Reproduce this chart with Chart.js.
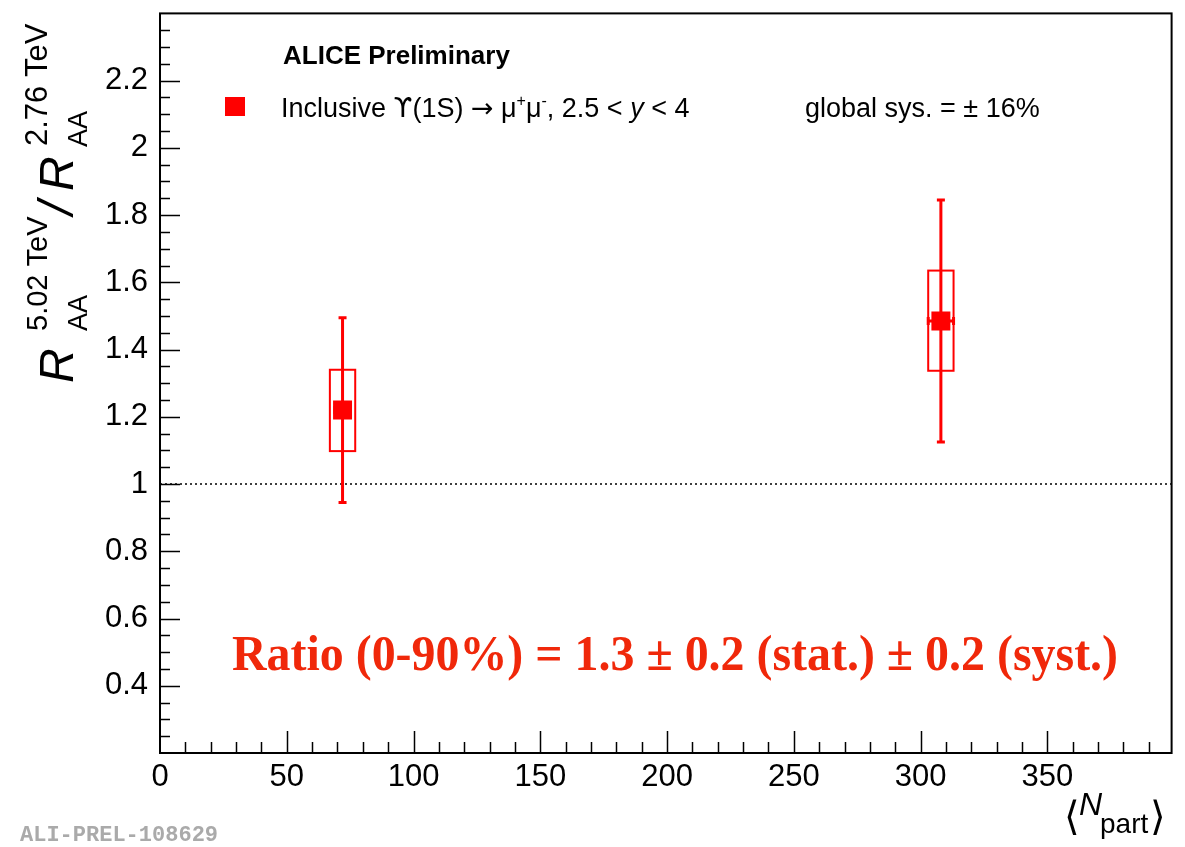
<!DOCTYPE html>
<html>
<head>
<meta charset="utf-8">
<script src="https://cdn.jsdelivr.net/npm/chart.js@4.4.1/dist/chart.umd.min.js"></script>
<style>
  html, body { margin: 0; padding: 0; background: #fff; }
</style>
</head>
<body>
<canvas id="myChart" width="1185" height="847"></canvas>
<script>
// values
const nPart = [72, 308];
const nPartErr = [3, 5];
const ratio = [1.22, 1.485];
const statLow = [0.945, 1.125];
const statHigh = [1.495, 1.845];
const systLow = [1.098, 1.337];
const systHigh = [1.34, 1.635];
const systHalfWidth = [5, 5];
const xTicks = [0, 50, 100, 150, 200, 250, 300, 350];
const yTicks = [0.4, 0.6, 0.8, 1, 1.2, 1.4, 1.6, 1.8, 2, 2.2];
const refLine = 1;

const RED = "#ff0000";
const SANS = "'Liberation Sans', Arial, sans-serif";
const SYM = "'DejaVu Sans', 'Liberation Sans', sans-serif";

Chart.defaults.font.family = SANS;
Chart.defaults.color = "#000";

// ROOT-like frame, inward ticks, error bars, boxes and texts
const rootStyle = {
  id: "rootStyle",
  beforeDatasetsDraw(chart) {
    const { ctx, chartArea: a, scales: { x, y } } = chart;
    ctx.save();
    // dotted line at ratio = 1
    ctx.strokeStyle = "#000";
    ctx.lineWidth = 1.5;
    ctx.setLineDash([2, 3]);
    ctx.beginPath();
    ctx.moveTo(a.left, y.getPixelForValue(refLine));
    ctx.lineTo(a.right, y.getPixelForValue(refLine));
    ctx.stroke();
    ctx.setLineDash([]);

    ctx.strokeStyle = RED;
    for (let i = 0; i < nPart.length; i++) {
      const px = x.getPixelForValue(nPart[i]);
      const py = y.getPixelForValue(ratio[i]);
      // systematic box
      const bx0 = x.getPixelForValue(nPart[i] - systHalfWidth[i]);
      const bx1 = x.getPixelForValue(nPart[i] + systHalfWidth[i]);
      const by0 = y.getPixelForValue(systHigh[i]);
      const by1 = y.getPixelForValue(systLow[i]);
      ctx.lineWidth = 2;
      ctx.strokeRect(bx0, by0, bx1 - bx0, by1 - by0);
      // statistical error bar
      const sy0 = y.getPixelForValue(statHigh[i]);
      const sy1 = y.getPixelForValue(statLow[i]);
      ctx.lineWidth = 3;
      ctx.beginPath();
      ctx.moveTo(px, sy0); ctx.lineTo(px, sy1);
      ctx.moveTo(px - 4, sy0); ctx.lineTo(px + 4, sy0);
      ctx.moveTo(px - 4, sy1); ctx.lineTo(px + 4, sy1);
      // x error
      const ex0 = x.getPixelForValue(nPart[i] - nPartErr[i]);
      const ex1 = x.getPixelForValue(nPart[i] + nPartErr[i]);
      ctx.moveTo(ex0, py); ctx.lineTo(ex1, py);
      ctx.moveTo(ex0, py - 4); ctx.lineTo(ex0, py + 4);
      ctx.moveTo(ex1, py - 4); ctx.lineTo(ex1, py + 4);
      ctx.stroke();
    }
    ctx.restore();
  },
  afterDraw(chart) {
    const { ctx, chartArea: a, scales: { x, y } } = chart;
    ctx.save();
    ctx.strokeStyle = "#000";
    ctx.lineWidth = 2;
    ctx.strokeRect(a.left, a.top, a.right - a.left, a.bottom - a.top);

    // inward ticks
    ctx.lineWidth = 1.5;
    ctx.beginPath();
    for (let i = 1; i < 44; i++) {
      const py = Math.round(y.getPixelForValue(0.2 + i * 0.05)) + 0.5;
      const len = i % 4 === 0 ? 20 : 10;
      ctx.moveTo(a.left, py); ctx.lineTo(a.left + len, py);
    }
    for (let i = 1; i < 40; i++) {
      const px = Math.round(x.getPixelForValue(i * 10)) + 0.5;
      const len = i % 5 === 0 ? 22 : 11;
      ctx.moveTo(px, a.bottom); ctx.lineTo(px, a.bottom - len);
    }
    ctx.stroke();

    ctx.fillStyle = "#000";
    ctx.textBaseline = "alphabetic";
    ctx.textAlign = "left";

    // y title, rotated
    ctx.save();
    ctx.translate(73, 383);
    ctx.rotate(-Math.PI / 2);
    ctx.font = "italic 48px " + SANS;
    ctx.fillText("R", 0, 0);
    ctx.font = "29px " + SANS;
    ctx.fillText("5.02 TeV", 52, -26);
    ctx.font = "27px " + SANS;
    ctx.fillText("AA", 52, 14);
    ctx.font = "italic 50px " + SANS;
    ctx.fillText("/", 168, 0);
    ctx.font = "italic 48px " + SANS;
    ctx.fillText("R", 192, 0);
    ctx.font = "31px " + SANS;
    ctx.fillText("2.76 TeV", 237, -26);
    ctx.font = "27px " + SANS;
    ctx.fillText("AA", 236, 14);
    ctx.restore();

    // x title
    ctx.font = "40px " + SYM;
    ctx.fillText("\u27E8", 1064, 830);
    ctx.font = "italic 32px " + SANS;
    ctx.fillText("N", 1079, 815);
    ctx.font = "28px " + SANS;
    ctx.fillText("part", 1100, 833);
    ctx.font = "40px " + SYM;
    ctx.fillText("\u27E9", 1150, 830);

    // header and legend
    ctx.font = "bold 26px " + SANS;
    ctx.fillText("ALICE Preliminary", 283, 64);
    ctx.fillStyle = RED;
    ctx.fillRect(225, 97, 20, 19);
    ctx.fillStyle = "#000";
    let tx = 281;
    const put = (t, font, dy) => {
      ctx.font = font;
      ctx.fillText(t, tx, 117 + (dy || 0));
      tx += ctx.measureText(t).width;
    };
    put("Inclusive ", "27px " + SANS);
    put("\u03D2", "27px " + SYM);
    put("(1S) ", "27px " + SANS);
    put("\u2192", "27px " + SYM);
    put(" \u03BC", "27px " + SANS);
    put("+", "16px " + SANS, -11);
    put("\u03BC", "27px " + SANS);
    put("-", "16px " + SANS, -11);
    put(", 2.5 < ", "27px " + SANS);
    put("y", "italic 27px " + SANS);
    put(" < 4", "27px " + SANS);
    ctx.font = "27px " + SANS;
    ctx.fillText("global sys. = \u00B1 16%", 805, 117);

    // result annotation, condensed serif
    const note = "Ratio (0-90%) = 1.3 \u00B1 0.2 (stat.) \u00B1 0.2 (syst.)";
    ctx.font = "bold 50px 'Liberation Serif', 'Times New Roman', serif";
    const w = ctx.measureText(note).width;
    ctx.save();
    ctx.translate(232, 670);
    ctx.scale(886 / w, 1);
    ctx.fillStyle = "#f0280a";
    ctx.fillText(note, 0, 0);
    ctx.restore();

    // figure id
    ctx.font = "bold 22px 'Liberation Mono', 'Courier New', monospace";
    ctx.fillStyle = "#aaaaaa";
    ctx.fillText("ALI-PREL-108629", 20, 841);
    ctx.restore();
  }
};

const points = nPart.map((v, i) => ({ x: v, y: ratio[i] }));

new Chart(document.getElementById("myChart").getContext("2d"), {
  type: "scatter",
  data: {
    datasets: [
      {
        label: "Inclusive Upsilon(1S)",
        data: points,
        pointStyle: "rect",
        pointRadius: 13.4,
        pointHoverRadius: 13.4,
        backgroundColor: RED,
        borderColor: RED,
        borderWidth: 0,
      },
    ],
  },
  options: {
    responsive: false,
    animation: false,
    devicePixelRatio: 1,
    layout: { padding: { left: 10, right: 13, top: 10, bottom: 10 } },
    scales: {
      x: {
        type: "linear",
        min: 0,
        max: 399,
        afterBuildTicks: (s) => { s.ticks = xTicks.map((v) => ({ value: v })); },
        afterFit: (s) => { s.height = 84; s.paddingLeft = 0; s.paddingRight = 0; },
        ticks: {
          font: { size: 31 },
          color: "#000",
          padding: 6,
          maxRotation: 0,
          autoSkip: false,
        },
        grid: { display: false, drawTicks: false },
        border: { display: false },
      },
      y: {
        type: "linear",
        min: 0.2,
        max: 2.4,
        afterBuildTicks: (s) => { s.ticks = yTicks.map((v) => ({ value: v })); },
        afterFit: (s) => { s.width = 150; s.paddingTop = 0; s.paddingBottom = 0; },
        ticks: {
          font: { size: 31 },
          color: "#000",
          padding: 12,
          autoSkip: false,
          callback: (v) => String(+v.toFixed(1)),
        },
        grid: { display: false, drawTicks: false },
        border: { display: false },
      },
    },
    plugins: {
      legend: { display: false },
      tooltip: { enabled: false },
    },
  },
  plugins: [rootStyle],
});
</script>
</body>
</html>
